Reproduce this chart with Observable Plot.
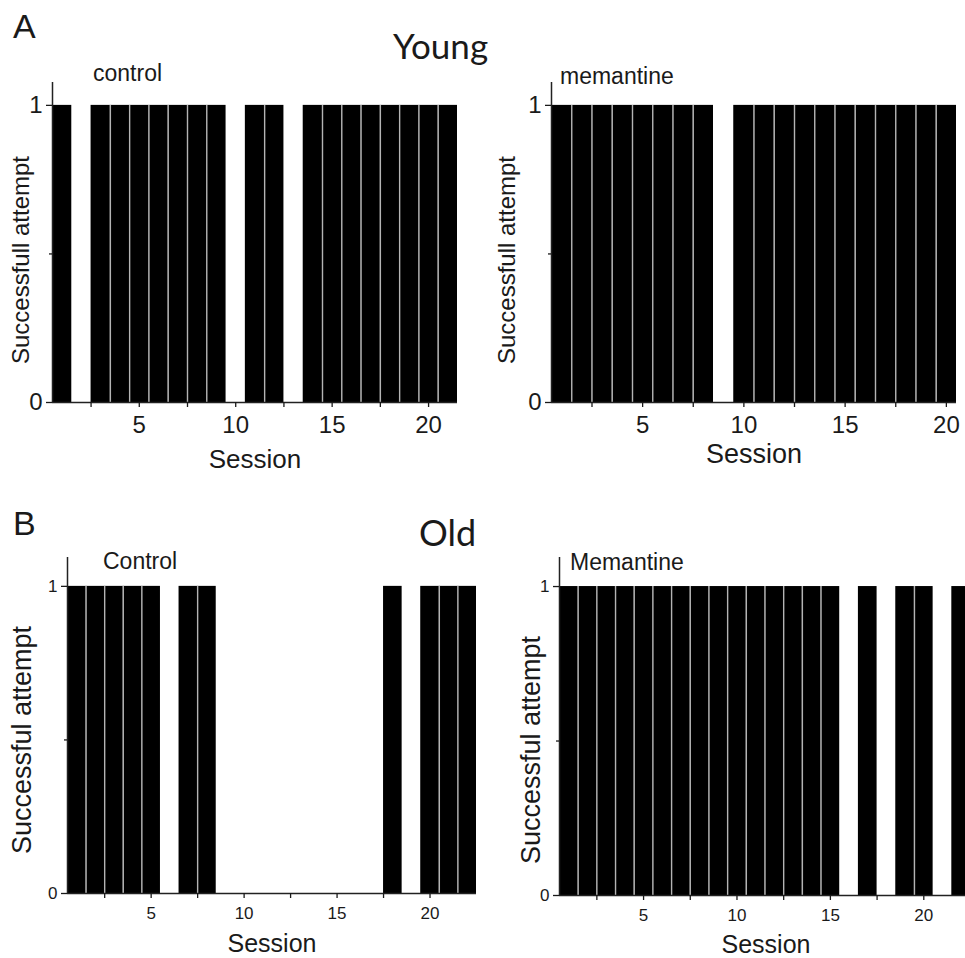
<!DOCTYPE html>
<html>
<head>
<meta charset="utf-8">
<script src="https://cdn.jsdelivr.net/npm/d3@7"></script>
<script src="https://cdn.jsdelivr.net/npm/@observablehq/plot@0.6"></script>
<style>
  html, body { margin: 0; padding: 0; background: #fff; overflow: hidden; }
  #chart { position: relative; width: 965px; height: 958px; overflow: hidden; background: #fff; }
  #chart svg { position: absolute; }
</style>
</head>
<body>
<div id="chart"></div>
<script>
// Success (1) or failure (0) of each session, per group
const youngControl   = [1,0,1,1,1,1,1,1,1,0,1,1,0,1,1,1,1,1,1,1,1];
const youngMemantine = [1,1,1,1,1,1,1,1,0,1,1,1,1,1,1,1,1,1,1,1];
const oldControl     = [1,1,1,1,1,0,1,1,0,0,0,0,0,0,0,0,0,1,0,1,1,1];
const oldMemantine   = [1,1,1,1,1,1,1,1,1,1,1,1,1,1,1,0,1,0,1,1,0,1];

// Axis ticks
const sessionTicks  = [2.5, 5, 7.5, 10, 12.5, 15, 17.5, 20];
const labelledTicks = [5, 10, 15, 20];
const yTicks        = [0, 1];
const yMinorTicks   = [0.5];

// Text
const panelLetters = ["A", "B"];
const ageGroups    = ["Young", "Old"];
const groupNames   = ["control", "memantine", "Control", "Memantine"];
const yTitles      = ["Successfull attempt", "Successful attempt"];
const xTitle       = "Session";

const chart = document.getElementById("chart");
const FONT = "'Liberation Sans', Arial, Helvetica, sans-serif";

function rowsOf(values) {
  return values.map((v, i) => ({session: i + 1, value: v}));
}

// Boundaries between neighbouring sessions, up to the lower of the two bars
function edgesOf(values) {
  return values.slice(1).map((v, i) => ({edge: i + 1.5, top: Math.min(v, values[i])}))
    .filter(d => d.top > 0);
}

function panel(values, o) {
  const rows = rowsOf(values);
  const edges = edgesOf(values);
  const svg = Plot.plot({
    width: o.width,
    height: o.height,
    marginLeft: o.ml,
    marginRight: o.mr,
    marginTop: o.mt,
    marginBottom: o.mb,
    x: {type: "linear", domain: [0.5, o.xMax]},
    y: {type: "linear", domain: [0, o.yMax]},
    style: {
      fontFamily: FONT,
      fontSize: o.fontSize + "px",
      color: "#1a1a1a",
      background: "transparent",
      overflow: "visible"
    },
    marks: [
      Plot.rectY(rows, {
        x1: d => d.session - 0.5,
        x2: d => d.session + 0.5,
        y1: 0,
        y2: "value",
        fill: "#000"
      }),
      Plot.ruleX(edges, {x: "edge", y1: 0, y2: "top", stroke: "#b4b4b4", strokeWidth: 1.4}),
      Plot.ruleY([0], {stroke: "#222", strokeWidth: 1.5}),
      Plot.ruleX([0.5], {stroke: "#222", strokeWidth: 1.5}),
      Plot.axisY({ticks: yTicks, tickSize: 6, tickPadding: o.yPad, tickFormat: d => String(d), label: null, strokeWidth: 1.3}),
      Plot.axisY({ticks: yMinorTicks, tickSize: 3, tickFormat: () => "", label: null, strokeWidth: 1.3}),
      Plot.axisX({
        ticks: sessionTicks,
        tickSize: 5,
        tickPadding: o.xPad,
        tickFormat: d => labelledTicks.includes(d) ? String(d) : "",
        label: null,
        strokeWidth: 1.3
      })
    ]
  });
  svg.style.left = o.left + "px";
  svg.style.top = o.top + "px";
  chart.appendChild(svg);
}

// Young: control, memantine
panel(youngControl,   {left: 0,   top: 0,   width: 480, height: 480, ml: 52, mr: 23, mt: 82, mb: 78, xMax: 21.5, yMax: 1.077, fontSize: 24, yPad: 4, xPad: 8});
panel(youngMemantine, {left: 480, top: 0,   width: 485, height: 480, ml: 71, mr: 9,  mt: 82, mb: 78, xMax: 20.5, yMax: 1.077, fontSize: 24, yPad: 4, xPad: 8});
// Old: control, memantine
panel(oldControl,     {left: 0,   top: 500, width: 480, height: 458, ml: 67, mr: 4,  mt: 57, mb: 65, xMax: 22.5, yMax: 1.094, fontSize: 17, yPad: 4, xPad: 8});
panel(oldMemantine,   {left: 480, top: 500, width: 500, height: 458, ml: 79, mr: 10, mt: 57, mb: 63, xMax: 22.5, yMax: 1.094, fontSize: 17, yPad: 4, xPad: 8});

// Titles and axis names
const overlay = d3.select(chart).append("svg")
  .attr("width", 965).attr("height", 958)
  .style("left", "0px").style("top", "0px")
  .style("pointer-events", "none");

function label(text, x, y, size, opts = {}) {
  return overlay.append("text")
    .attr("x", x).attr("y", y)
    .attr("font-family", opts.family || FONT)
    .attr("font-size", size)
    .attr("fill", opts.fill || "#1a1a1a")
    .attr("text-anchor", opts.anchor || "start")
    .text(text);
}

function yLabel(text, cx, cy, size) {
  overlay.append("text")
    .attr("transform", `translate(${cx},${cy}) rotate(-90)`)
    .attr("font-family", FONT)
    .attr("font-size", size)
    .attr("fill", "#1a1a1a")
    .attr("text-anchor", "middle")
    .attr("dy", "0.35em")
    .text(text);
}

label(panelLetters[0], 13, 38, 34);
label(panelLetters[1], 13, 535, 34);
label(ageGroups[0], 393, 59, 35, {family: "Lato, 'Open Sans', sans-serif"});
label(ageGroups[1], 419, 546, 36, {family: "Lato, 'Open Sans', sans-serif"});

label(groupNames[0], 93, 81, 23);
label(groupNames[1], 560, 84, 23);
label(groupNames[2], 103, 569, 23);
label(groupNames[3], 570, 570, 23);

label(xTitle, 255, 468, 26, {anchor: "middle"});
label(xTitle, 754, 463, 27, {anchor: "middle"});
label(xTitle, 272, 952, 25, {anchor: "middle"});
label(xTitle, 766, 953, 25, {anchor: "middle"});

yLabel(yTitles[0], 21, 260, 24);
yLabel(yTitles[0], 507, 260, 24);
yLabel(yTitles[1], 22, 740, 27);
yLabel(yTitles[1], 531, 750, 27);
</script>
</body>
</html>
